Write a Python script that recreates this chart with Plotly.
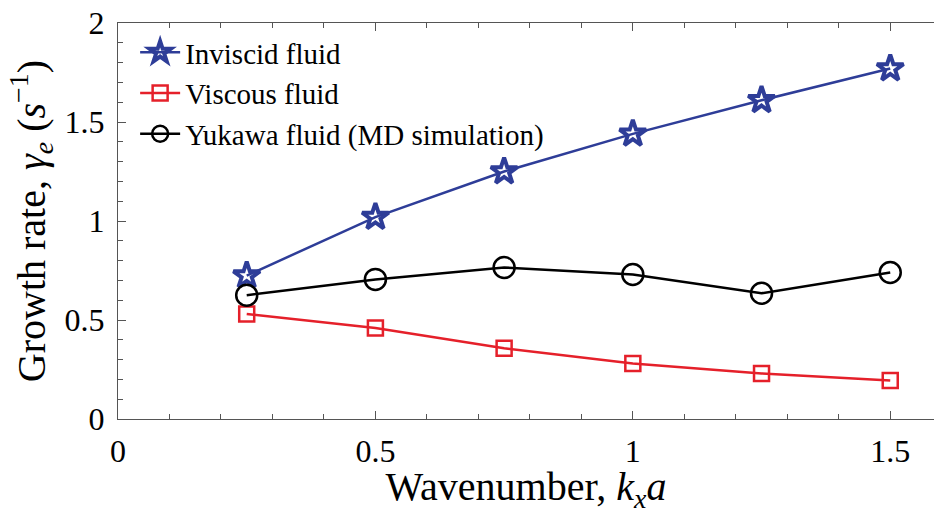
import plotly.graph_objects as go

kxa = [0.25, 0.5, 0.75, 1.0, 1.25, 1.5]
inviscid = [0.724, 1.02, 1.25, 1.44, 1.61, 1.77]
viscous = [0.53, 0.46, 0.357, 0.28, 0.23, 0.195]
yukawa = [0.625, 0.705, 0.765, 0.73, 0.635, 0.74]

names = ["Inviscid fluid", "Viscous fluid", "Yukawa fluid (MD simulation)"]
colors = ["#2E3D98", "#E5202A", "#000000"]
symbols = ["star-open", "square-open", "circle-open"]
msizes = [20, 15, 21]
mwidths = [4, 2.5, 2.5]

FONT = "Liberation Serif, DejaVu Serif, serif"

fig = go.Figure()
for ys, nm, c, s, ms, mw in zip([inviscid, viscous, yukawa], names, colors, symbols, msizes, mwidths):
    fig.add_trace(go.Scatter(
        x=kxa, y=ys, name=nm, mode="lines+markers",
        line=dict(color=c, width=2.5),
        marker=dict(symbol=s, size=ms, color=c, line=dict(color=c, width=mw)),
    ))

axis_common = dict(
    showline=True, linecolor="#555555", linewidth=1,
    ticks="inside", ticklen=8, tickcolor="#555555", tickwidth=1,
    showgrid=False, zeroline=False,
    tickfont=dict(family=FONT, size=32, color="black"),
)

fig.update_xaxes(
    range=[0, 1.585], tickvals=[0, 0.5, 1, 1.5], ticktext=["0", "0.5", "1", "1.5"],
    mirror="allticks",
    minor=dict(dtick=0.1, tick0=0, ticks="inside", ticklen=5, tickcolor="#555555", tickwidth=1),
    title=dict(text="Wavenumber, <i>k<sub>x</sub>a</i>", font=dict(family=FONT, size=40, color="black"), standoff=6),
    ticklabelstandoff=4,
    **axis_common,
)
fig.update_yaxes(
    range=[0, 2], tickvals=[0, 0.5, 1, 1.5, 2], ticktext=["0", "0.5", "1", "1.5", "2"],
    minor=dict(dtick=0.1, tick0=0, ticks="inside", ticklen=5, tickcolor="#555555", tickwidth=1),
    title=dict(text="Growth rate, <i>γ<sub>e</sub></i> (<i>s</i><sup>−1</sup>)", font=dict(family=FONT, size=40, color="black"), standoff=6),
    ticklabelstandoff=6,
    **axis_common,
)

fig.update_layout(
    width=934, height=514,
    margin=dict(l=118, r=0, t=23, b=95),
    plot_bgcolor="white", paper_bgcolor="white",
    showlegend=True,
    legend=dict(
        x=0.021, y=0.99, xanchor="left", yanchor="top",
        bgcolor="rgba(0,0,0,0)", borderwidth=0,
        font=dict(family=FONT, size=29, color="black"),
        itemwidth=40, tracegroupgap=0,
    ),
)

fig.write_html("out.html")
